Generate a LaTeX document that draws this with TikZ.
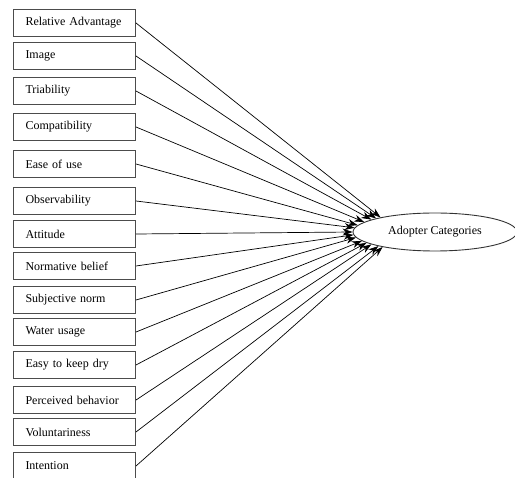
\documentclass[tikz,border=0pt]{standalone}
\usepackage{fontspec}
\setmainfont{Liberation Serif}
\usetikzlibrary{shapes.geometric,arrows.meta}
\begin{document}
\begin{tikzpicture}[x=1pt,y=-1pt,
  factor/.style={draw=black!70, line width=1pt, minimum width=122pt, minimum height=27pt,
    text width=98pt, inner xsep=12pt, inner ysep=0pt, align=left, anchor=north west,
    font=\fontsize{12}{14}\selectfont},
  target/.style={ellipse, draw=black!80, line width=0.9pt, minimum width=164pt, minimum height=38pt,
    inner sep=0pt, font=\fontsize{12}{14}\selectfont},
  link/.style={-{Stealth[length=10pt,width=7pt]}, line width=0.7pt, black}]
\useasboundingbox (0,0) rectangle (515,478);
\node[factor] (f1)  at (13,9)   {Relative Advantage};
\node[factor] (f2)  at (13,42)  {Image};
\node[factor] (f3)  at (13,77)  {Triability};
\node[factor] (f4)  at (13,113) {Compatibility};
\node[factor] (f5)  at (13,150) {Ease of use};
\node[factor] (f6)  at (13,187) {Observability};
\node[factor] (f7)  at (13,220) {Attitude};
\node[factor] (f8)  at (13,252) {Normative belief};
\node[factor] (f9)  at (13,286) {Subjective norm};
\node[factor] (f10) at (13,318) {Water usage};
\node[factor] (f11) at (13,351) {Easy to keep dry};
\node[factor] (f12) at (13,386) {Perceived behavior};
\node[factor] (f13) at (13,418) {Voluntariness};
\node[factor] (f14) at (13,452) {Intention};
\node[target] (ac) at (435,232) {Adopter Categories};
\foreach \i/\a in {1/165,2/167.4,3/169.9,4/172.4,5/175.1,6/177.7,7/180,8/182.3,9/184.7,10/187,11/189.3,12/191.8,13/194.1,14/196.5}
  \draw[link] (f\i.east) -- (ac.\a);
\end{tikzpicture}
\end{document}
